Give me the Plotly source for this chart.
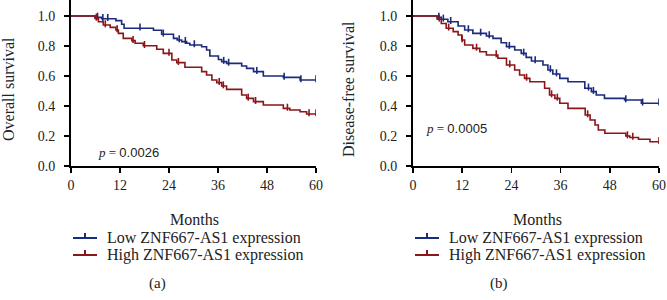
import plotly.graph_objects as go
import numpy as np

# ---------------- data ----------------
months_ticks = [0, 12, 24, 36, 48, 60]
surv_ticks = [0.0, 0.2, 0.4, 0.6, 0.8, 1.0]

# Overall survival (a)
os_low_t = [0, 5.9, 7.5, 11.0, 12.4, 13.0, 20.2, 22.2, 25.1, 26.0, 27.1, 28.3, 29.1, 32.0, 33.2, 34.0,
            36.1, 36.9, 38.1, 41.8, 43.0, 44.7, 47.1, 52.0, 56.1, 60]
os_low_s = [1.0, 0.991, 0.982, 0.969, 0.945, 0.918, 0.905, 0.878, 0.851, 0.84, 0.829, 0.818, 0.807, 0.795, 0.773, 0.733,
            0.71, 0.696, 0.684, 0.667, 0.651, 0.629, 0.6, 0.591, 0.573, 0.573]
os_low_c = [6.5, 7.8, 9.0, 16.9, 22.6, 26.5, 28.0, 30.2, 37.4, 38.6, 45.5, 52.2, 56.3, 60]

os_high_t = [0, 5.9, 6.7, 7.9, 9.6, 11.0, 11.6, 12.8, 14.9, 15.7, 17.7, 21.0, 22.6, 24.7, 25.9, 27.9, 32.0, 33.2,
             34.5, 35.7, 36.9, 38.1, 41.8, 43.0, 44.7, 47.1, 52.0, 53.6, 56.1, 57.7, 60]
os_high_s = [1.0, 0.984, 0.962, 0.94, 0.924, 0.907, 0.884, 0.851, 0.836, 0.818, 0.802, 0.778, 0.751, 0.707, 0.689, 0.658, 0.629, 0.607,
             0.573, 0.556, 0.533, 0.511, 0.473, 0.451, 0.429, 0.407, 0.384, 0.373, 0.362, 0.347, 0.347]
os_high_c = [6.2, 8.4, 11.3, 15.2, 18.0, 24.0, 26.3, 36.3, 37.3, 43.4, 45.2, 53.0, 58.3, 60]

# Disease-free survival (b)
dfs_low_t = [0, 5.9, 6.9, 8.5, 11.0, 12.6, 14.6, 17.9, 19.5, 21.5, 22.8, 24.8, 26.4, 27.6, 28.9, 31.7, 32.9,
             34.1, 35.8, 37.8, 41.9, 43.5, 44.7, 46.7, 51.6, 55.7, 60]
dfs_low_s = [1.0, 0.991, 0.978, 0.962, 0.933, 0.907, 0.884, 0.867, 0.851, 0.822, 0.796, 0.773, 0.751, 0.724, 0.7, 0.673, 0.64,
             0.613, 0.584, 0.562, 0.518, 0.496, 0.473, 0.451, 0.44, 0.418, 0.418]
dfs_low_c = [6.3, 7.4, 9.2, 13.5, 16.5, 18.6, 23.5, 27.0, 29.8, 33.5, 35.0, 42.8, 44.0, 51.9, 56.0, 60]

dfs_high_t = [0, 5.9, 6.9, 8.1, 9.8, 11.0, 11.9, 12.6, 14.6, 16.3, 17.9, 20.7, 22.8, 24.8, 26.0, 27.2, 28.5,
              32.1, 33.3, 34.6, 35.8, 37.8, 42.0, 43.2, 44.4, 45.2, 46.8, 51.9, 52.9, 55.0, 57.8, 60]
dfs_high_s = [1.0, 0.978, 0.95, 0.918, 0.896, 0.873, 0.84, 0.807, 0.784, 0.762, 0.74, 0.718, 0.673, 0.64, 0.607, 0.584, 0.562,
              0.518, 0.473, 0.451, 0.418, 0.384, 0.34, 0.307, 0.273, 0.24, 0.218, 0.2, 0.19, 0.178, 0.162, 0.162]
dfs_high_c = [6.4, 8.7, 12.0, 15.5, 20.3, 23.6, 27.7, 33.8, 35.2, 42.6, 52.3, 53.6, 60]

labels = ["Low ZNF667-AS1 expression", "High ZNF667-AS1 expression"]
p_values = ["0.0026", "0.0005"]
y_titles = ["Overall survival", "Disease-free survival"]
panel_tags = ["(a)", "(b)"]

BLUE = "#1c2a7c"
RED = "#8c1519"
SERIF = "Liberation Serif"
TXT = "#222222"


def step_at(ts, ss, t):
    idx = np.searchsorted(np.array(ts), t, side="right") - 1
    return ss[max(idx, 0)]


fig = go.Figure()

panels = [
    ("x", "y", [(os_low_t, os_low_s, os_low_c), (os_high_t, os_high_s, os_high_c)]),
    ("x2", "y2", [(dfs_low_t, dfs_low_s, dfs_low_c), (dfs_high_t, dfs_high_s, dfs_high_c)]),
]
colors = [BLUE, RED]

for xa, ya, curves in panels:
    for (ts, ss, cs), col, lab in zip(curves, colors, labels):
        fig.add_trace(go.Scatter(x=ts, y=ss, mode="lines", line=dict(color=col, width=1.6, shape="hv"),
                                 xaxis=xa, yaxis=ya, showlegend=False, hoverinfo="skip", name=lab))
        fig.add_trace(go.Scatter(x=cs, y=[step_at(ts, ss, c) + 0.008 for c in cs], mode="markers",
                                 marker=dict(symbol="line-ns", size=5, line=dict(color=col, width=1.6)),
                                 xaxis=xa, yaxis=ya, showlegend=False, hoverinfo="skip"))

W, H = 667, 300
def px(x):
    return x / W
def py(y):
    return 1 - y / H

YTOP = 166 / 150  # value at the top edge of the figure

axis_common = dict(showgrid=False, zeroline=False, showline=True, linecolor="black", linewidth=2,
                   ticks="outside", ticklen=5, tickwidth=1.5, tickcolor="black", automargin=False,
                   ticklabeloverflow="allow", tickfont=dict(family=SERIF, size=14, color=TXT))

fig.update_layout(
    width=W, height=H, margin=dict(l=0, r=0, t=0, b=0, autoexpand=False),
    plot_bgcolor="white", paper_bgcolor="white", showlegend=False,
    xaxis=dict(domain=[px(71), px(316)], range=[0, 60], tickvals=months_ticks, anchor="y", **axis_common),
    yaxis=dict(domain=[py(166), 1], range=[0, YTOP], tickvals=surv_ticks,
               tickformat=".1f", anchor="x", ticklabelstandoff=6, **axis_common),
    xaxis2=dict(domain=[px(413), px(659)], range=[0, 60], tickvals=months_ticks, anchor="y2", **axis_common),
    yaxis2=dict(domain=[py(166), 1], range=[0, YTOP], tickvals=surv_ticks,
                tickformat=".1f", anchor="x2", ticklabelstandoff=6, **axis_common),
)

ann = []
shapes = []
panel_x = [(71, 316), (413, 659)]
base = dict(xref="paper", yref="paper", showarrow=False, yanchor="middle")
for i, (x0, x1) in enumerate(panel_x):
    xc = (x0 + x1) / 2
    ann.append(dict(text="Months", x=px(xc + 1), y=py(220), xanchor="center",
                    font=dict(family=SERIF, size=16, color=TXT), **base))
    ann.append(dict(text=y_titles[i], x=px(x0 - 62 - (2 if i == 1 else 0)), y=py(89), xanchor="center",
                    textangle=-90, font=dict(family=SERIF, size=16, color=TXT), **base))
    ann.append(dict(text=panel_tags[i], x=px(x0 + 86), y=py(283), xanchor="center",
                    font=dict(family=SERIF, size=15, color=TXT), **base))
    ann.append(dict(text="<i>p</i> = <span style='font-family:Liberation Sans'>%s</span>" % p_values[i],
                    x=px(x0 + (25 if i == 0 else 11)), y=py(152 if i == 0 else 129), xanchor="left",
                    font=dict(family=SERIF, size=13, color=TXT), **base))
    # manual legend
    for j, (col, lab) in enumerate(zip(colors, labels)):
        ly = 238 + 17 * j
        lx0 = x0 + 2
        shapes.append(dict(type="line", xref="paper", yref="paper", x0=px(lx0), x1=px(lx0 + 24),
                           y0=py(ly), y1=py(ly), line=dict(color=col, width=2)))
        shapes.append(dict(type="line", xref="paper", yref="paper", x0=px(lx0 + 12), x1=px(lx0 + 12),
                           y0=py(ly), y1=py(ly - 5), line=dict(color=col, width=2)))
        ann.append(dict(text=lab, x=px(lx0 + 32), y=py(ly), xanchor="left",
                        font=dict(family=SERIF, size=16, color=TXT), **base))

fig.update_layout(annotations=ann, shapes=shapes)

# remove the default 8px page margin so the figure fills the window exactly
fig.write_html("out.html", config={"displayModeBar": False, "staticPlot": True},
               post_script="document.body.style.margin='0';document.body.style.overflow='hidden';")
